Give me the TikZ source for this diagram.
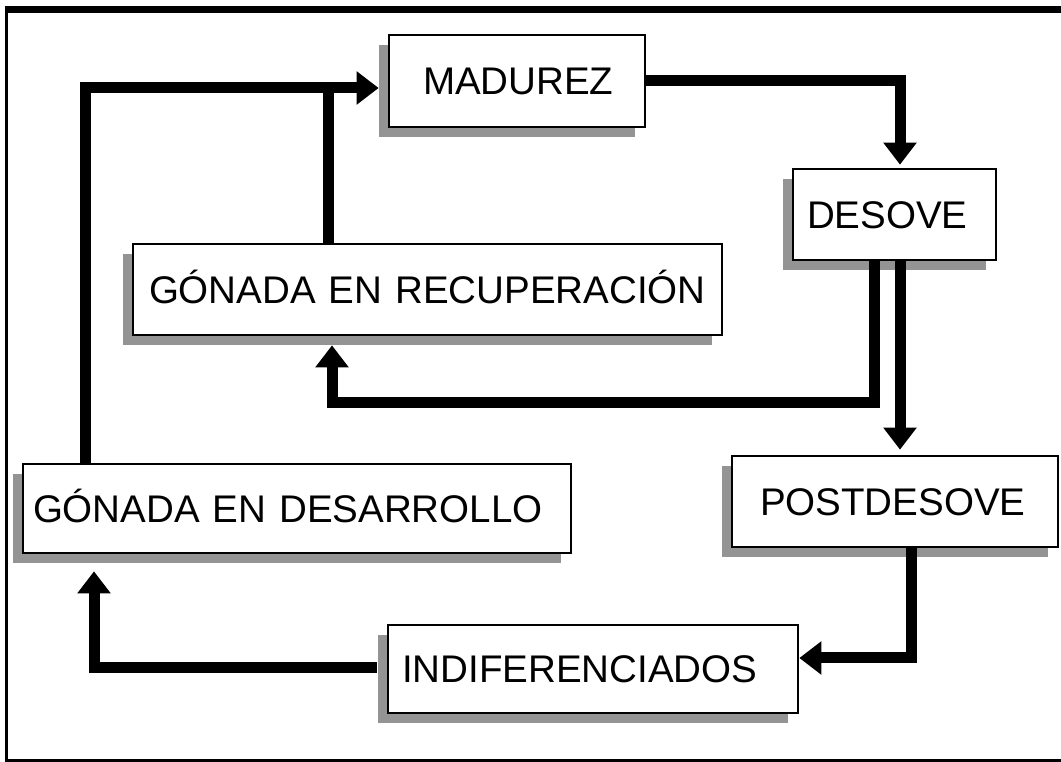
\documentclass[tikz,border=0pt]{standalone}
\usepackage{fontspec}
\setmainfont{Liberation Sans}
\usetikzlibrary{arrows.meta,shadows,calc}
\begin{document}
\begin{tikzpicture}[x=0.75pt,y=-0.75pt,
  box/.style={draw, line width=2pt, fill=white, align=left, inner ysep=0pt,
    text height=20.7pt, text depth=0pt, font=\fontsize{28.9pt}{31pt}\selectfont,
    drop shadow={shadow xshift=-7.5pt, shadow yshift=-7.5pt, fill=black!42, opacity=1}},
  conn/.style={line width=8.25pt, line join=miter, -{Triangle[length=16.5pt,width=24pt]}},
  link/.style={line width=8.25pt, line join=miter}]
\path[use as bounding box] (0,0) rectangle (1061,762);
% frame
\draw[line width=2.25pt] (1070,9.5) -- (6,9.5) -- (6,760) -- (1070,760);
\draw[line width=5.25pt] (4.5,9.5) -- (1070,9.5);
% boxes
\node[box, minimum height=69pt, inner xsep=25.5pt, text width=141pt] (MAD) at (517,81) {MADUREZ};
\node[box, minimum height=68.25pt, inner xsep=10.5pt, text width=131.25pt] (DES) at (894.5,214.5) {DESOVE};
\node[box, minimum height=68.25pt, inner xsep=12pt, text width=417.75pt] (GR) at (427.5,289.5) {GÓNADA EN RECUPERACIÓN};
\node[box, minimum height=66.75pt, inner xsep=7.5pt, text width=396pt] (GD) at (297,508.5) {GÓNADA EN DESARROLLO};
\node[box, minimum height=68.25pt, inner xsep=21pt, text width=202.5pt] (PD) at (895,501.5) {POSTDESOVE};
\node[box, minimum height=66pt, inner xsep=10.5pt, text width=286.5pt] (IN) at (593,669) {INDIFERENCIADOS};
% connectors
\draw[conn] (MAD.east) -| ($(DES.north)+(5.5,-3)$);
\draw[conn] ($(DES.south)+(5.5,0)$) -- ($(PD.north)+(5,-5)$);
\draw[conn] ($(DES.south)+(-20.5,0)$) |- ($(GR.south)+(-95.5,66)$) -- ($(GR.south)+(-95.5,9)$);
\draw[conn] ($(PD.south)+(16,0)$) |- ($(IN.east)+(0,-11)$);
\draw[conn] ($(IN.west)+(-10,-1)$) -| ($(GD.south)+(-203,17)$);
\draw[conn] ($(GD.north)+(-211.5,0)$) |- ($(MAD.west)+(-9,7)$);
\draw[link] ($(GR.north)+(-99.5,0)$) -- ($(GR.north |- MAD.west)+(-99.5,7)$);
\end{tikzpicture}
\end{document}
